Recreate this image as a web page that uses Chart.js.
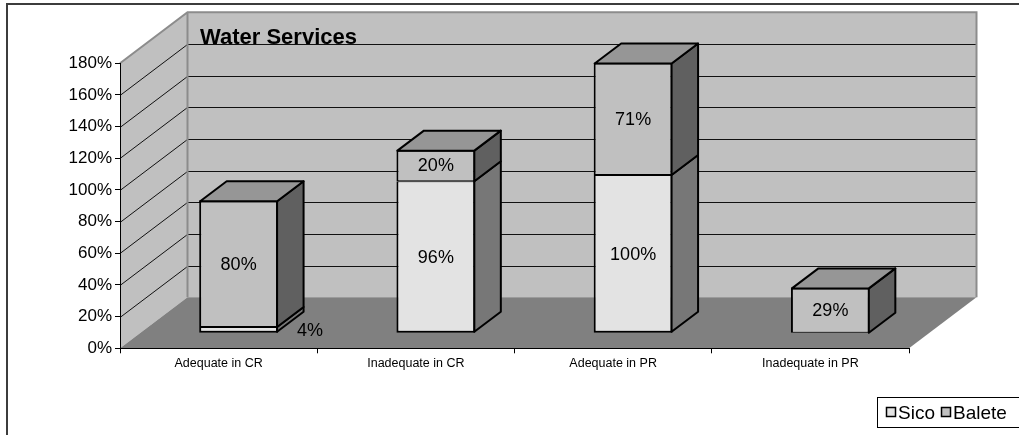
<!DOCTYPE html>
<html>
<head>
<meta charset="utf-8">
<script src="https://cdn.jsdelivr.net/npm/chart.js@4"></script>
<style>
html, body { margin: 0; padding: 0; background: #fff; }
canvas { display: block; }
</style>
</head>
<body>
<canvas id="myChart" width="1019" height="435"></canvas>
<script>
// data
const categories = ['Adequate in CR', 'Inadequate in CR', 'Adequate in PR', 'Inadequate in PR'];
const sico = [4, 96, 100, 0];
const balete = [80, 20, 71, 29];
const yMax = 180;
const yStep = 20;

// look
const FRONT = ['#e3e3e3', '#c0c0c0'];
const SIDE = ['#777777', '#606060'];
const TOP = ['#b4b4b4', '#969696'];
const WALL_DX = 67.5, WALL_DY = 51;      // depth of the floor
const SHIFT_X = 20, SHIFT_Y = -15;       // bars stand in the middle of the floor
const BAR_DX = 26.5, BAR_DY = 20;        // depth of one bar
const FONT = '"Liberation Sans", Arial, sans-serif';

Chart.defaults.font.family = FONT;

const walls = {
    id: 'walls',
    beforeDraw(chart) {
        const { ctx, chartArea: a, scales: { y } } = chart;
        const y0 = y.getPixelForValue(0);
        const yt = y.getPixelForValue(yMax);
        ctx.save();
        // outer frame
        ctx.strokeStyle = '#3c3c3c';
        ctx.lineWidth = 2;
        ctx.strokeRect(7, 4, 1100, 1100);
        // back wall
        ctx.fillStyle = '#c0c0c0';
        ctx.fillRect(a.left + WALL_DX, yt - WALL_DY, a.right - a.left, y0 - yt);
        // side wall
        ctx.beginPath();
        ctx.moveTo(a.left, yt);
        ctx.lineTo(a.left + WALL_DX, yt - WALL_DY);
        ctx.lineTo(a.left + WALL_DX, y0 - WALL_DY);
        ctx.lineTo(a.left, y0);
        ctx.closePath();
        ctx.fill();
        // floor
        ctx.fillStyle = '#808080';
        ctx.beginPath();
        ctx.moveTo(a.left, y0);
        ctx.lineTo(a.left + WALL_DX, y0 - WALL_DY);
        ctx.lineTo(a.right + WALL_DX, y0 - WALL_DY);
        ctx.lineTo(a.right, y0);
        ctx.closePath();
        ctx.fill();
        // grid lines
        ctx.strokeStyle = '#111';
        ctx.lineWidth = 1;
        for (let v = yStep; v < yMax; v += yStep) {
            const p = Math.round(y.getPixelForValue(v)) + 0.5;
            ctx.beginPath();
            ctx.moveTo(a.left, p);
            ctx.lineTo(a.left + WALL_DX, p - WALL_DY);
            ctx.lineTo(a.right + WALL_DX, p - WALL_DY);
            ctx.stroke();
        }
        // wall edges
        ctx.strokeStyle = '#8c8c8c';
        ctx.lineWidth = 2;
        ctx.beginPath();
        ctx.moveTo(a.left, yt);
        ctx.lineTo(a.left + WALL_DX, yt - WALL_DY);
        ctx.lineTo(a.right + WALL_DX, yt - WALL_DY);
        ctx.lineTo(a.right + WALL_DX, y0 - WALL_DY);
        ctx.moveTo(a.left + WALL_DX, yt - WALL_DY);
        ctx.lineTo(a.left + WALL_DX, y0 - WALL_DY);
        ctx.stroke();
        // title
        ctx.fillStyle = '#000';
        ctx.font = 'bold 22px ' + FONT;
        ctx.textBaseline = 'alphabetic';
        ctx.fillText('Water Services', 200, 43.5);
        ctx.restore();
    },
    beforeDatasetsDraw(chart) {
        chart.ctx.save();
        chart.ctx.translate(SHIFT_X, SHIFT_Y);
    },
    afterDatasetsDraw(chart) {
        const ctx = chart.ctx;
        ctx.restore();
        ctx.save();
        ctx.translate(SHIFT_X, SHIFT_Y);
        ctx.strokeStyle = '#000';
        ctx.lineWidth = 2;
        ctx.lineJoin = 'round';
        const metas = chart.data.datasets.map((d, i) => chart.getDatasetMeta(i));
        categories.forEach((c, i) => {
            let topSeg = -1;
            metas.forEach((m, di) => {
                if (chart.data.datasets[di].data[i]) topSeg = di;
            });
            if (topSeg < 0) return;
            metas.forEach((m, di) => {
                const val = chart.data.datasets[di].data[i];
                if (!val) return;
                const b = m.data[i];
                const r = b.x + b.width / 2 - 1;
                const t = di === topSeg ? b.y + 1 : b.y;
                const bo = di === 0 ? b.base - 1 : b.base;
                ctx.fillStyle = SIDE[di];
                ctx.beginPath();
                ctx.moveTo(r, t);
                ctx.lineTo(r + BAR_DX, t - BAR_DY);
                ctx.lineTo(r + BAR_DX, bo - BAR_DY);
                ctx.lineTo(r, bo);
                ctx.closePath();
                ctx.fill();
                ctx.stroke();
            });
            const b = metas[topSeg].data[i];
            const l = b.x - b.width / 2 + 1, r = b.x + b.width / 2 - 1, t = b.y + 1;
            ctx.fillStyle = TOP[topSeg];
            ctx.beginPath();
            ctx.moveTo(l, t);
            ctx.lineTo(l + BAR_DX, t - BAR_DY);
            ctx.lineTo(r + BAR_DX, t - BAR_DY);
            ctx.lineTo(r, t);
            ctx.closePath();
            ctx.fill();
            ctx.stroke();
        });
        // value labels
        ctx.fillStyle = '#000';
        ctx.font = '18px ' + FONT;
        ctx.textBaseline = 'middle';
        metas.forEach((m, di) => {
            m.data.forEach((b, i) => {
                const val = chart.data.datasets[di].data[i];
                if (!val) return;
                const mid = (b.y + b.base) / 2;
                if (b.base - b.y < 16) {
                    ctx.textAlign = 'left';
                    ctx.fillText(val + '%', b.x + b.width / 2 + 19, mid + 1);
                } else {
                    ctx.textAlign = 'center';
                    ctx.fillText(val + '%', b.x, mid + 1);
                }
            });
        });
        ctx.restore();
    },
    afterDraw(chart) {
        const ctx = chart.ctx;
        ctx.save();
        ctx.strokeStyle = '#000';
        ctx.lineWidth = 1;
        ctx.strokeRect(877.5, 397.5, 160, 30);
        ctx.font = '19px ' + FONT;
        ctx.textBaseline = 'alphabetic';
        ctx.textAlign = 'left';
        const items = [[886, 898], [941, 953]];
        chart.data.datasets.forEach((d, i) => {
            ctx.fillStyle = d.backgroundColor;
            ctx.fillRect(items[i][0] + 0.5, 407.5, 9, 9);
            ctx.lineWidth = 1.5;
            ctx.strokeRect(items[i][0] + 0.5, 407.5, 9, 9);
            ctx.fillStyle = '#000';
            ctx.fillText(d.label, items[i][1], 418.5);
        });
        ctx.restore();
    }
};

const ctx = document.getElementById('myChart').getContext('2d');
const myChart = new Chart(ctx, {
    type: 'bar',
    data: {
        labels: categories,
        datasets: [{
            label: 'Sico',
            data: sico,
            backgroundColor: FRONT[0],
            borderColor: '#000',
            borderWidth: { top: 1, left: 2, right: 2, bottom: 2 },
            borderSkipped: false,
            barPercentage: 0.4,
            categoryPercentage: 1,
            clip: false
        }, {
            label: 'Balete',
            data: balete,
            backgroundColor: FRONT[1],
            borderColor: '#000',
            borderWidth: { top: 2, left: 2, right: 2, bottom: 1 },
            borderSkipped: false,
            barPercentage: 0.4,
            categoryPercentage: 1,
            clip: false
        }]
    },
    options: {
        responsive: false,
        animation: false,
        events: [],
        layout: { padding: { top: 63.3, right: 110, left: 0, bottom: 0 } },
        plugins: {
            legend: { display: false },
            tooltip: { enabled: false }
        },
        scales: {
            x: {
                stacked: true,
                offset: true,
                grid: { offset: true, drawOnChartArea: false, tickLength: 5, color: '#000' },
                border: { color: '#000', width: 1 },
                ticks: { color: '#000', font: { size: 12.5 }, padding: 3, maxRotation: 0 },
                afterFit(s) { s.height = 435 - 348.3; }
            },
            y: {
                stacked: true,
                min: 0,
                max: yMax,
                ticks: { stepSize: yStep, callback: v => v + '%', color: '#000', font: { size: 17 }, padding: 3 },
                grid: { drawOnChartArea: false, tickLength: 5, color: '#000' },
                border: { color: '#000', width: 1 },
                afterFit(s) { s.width = 120; }
            }
        }
    },
    plugins: [walls]
});
</script>
</body>
</html>
